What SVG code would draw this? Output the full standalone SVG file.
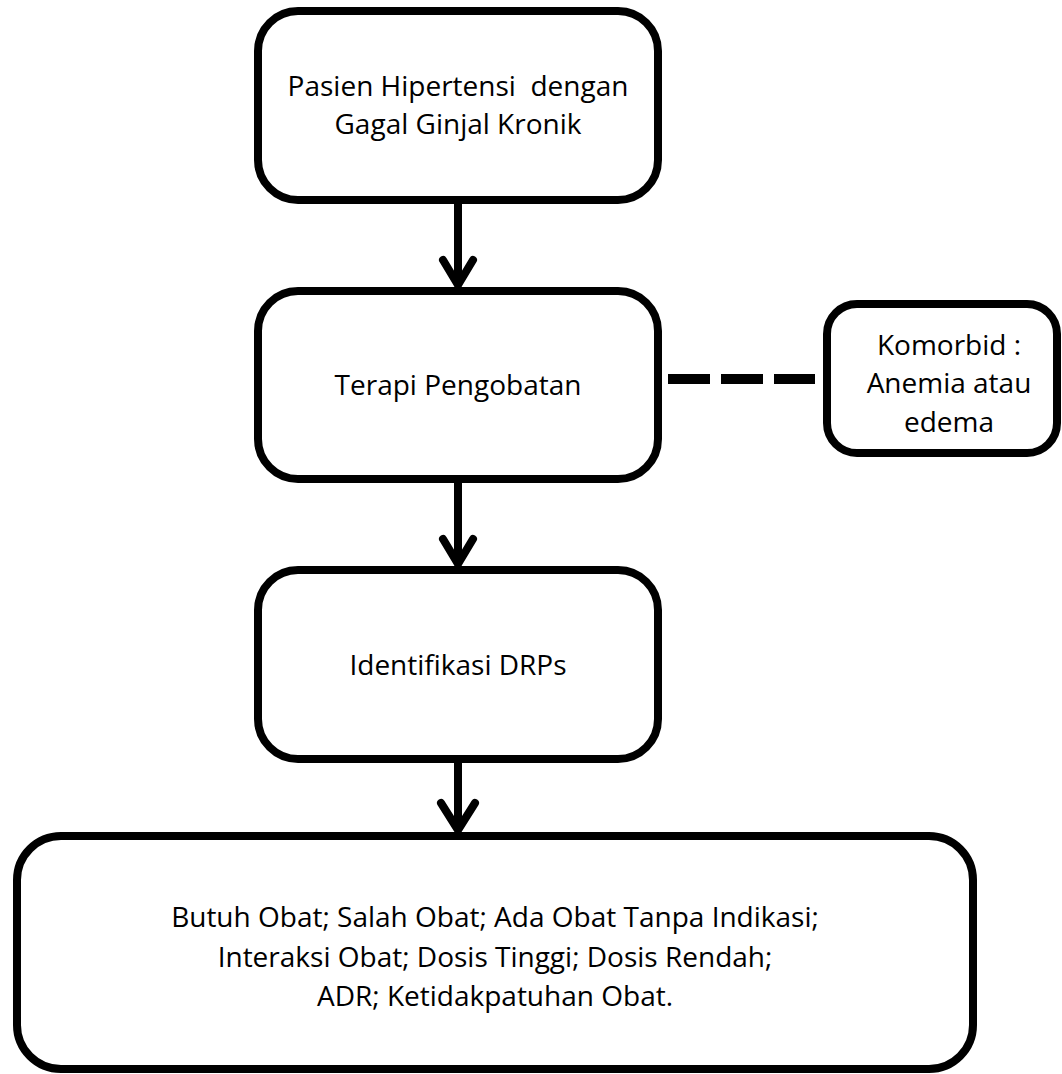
<svg xmlns="http://www.w3.org/2000/svg" width="1062" height="1074" viewBox="0 0 1062 1074">
<style>
.box{fill:#fff;stroke:#000;stroke-width:8}
.t{font-family:"Open Sans","Liberation Sans",sans-serif;font-size:28px;fill:#000;text-anchor:middle}
.arr{fill:none;stroke:#000;stroke-width:8;stroke-linecap:round;stroke-linejoin:round}
.dash{stroke:#000;stroke-width:10;stroke-dasharray:42 11;fill:none}
</style>
<rect width="1062" height="1074" fill="#fff"/>
<g id="connectors">
<path class="arr" d="M458 204V285M443 260L458 285L473 260"/>
<path class="arr" d="M458 483V564M443 539L458 564L473 539"/>
<path class="arr" d="M458 763V830M441 803L458 830L475 803"/>
<line class="dash" x1="668" y1="379" x2="815" y2="379"/>
</g>
<g id="n1">
<rect class="box" x="258" y="11" width="400" height="189" rx="40"/>
<text class="t" x="458" y="96" xml:space="preserve">Pasien Hipertensi  dengan</text>
<text class="t" x="458" y="134">Gagal Ginjal Kronik</text>
</g>
<g id="n2">
<rect class="box" x="258" y="291" width="400" height="188" rx="40"/>
<text class="t" x="458" y="395">Terapi Pengobatan</text>
</g>
<g id="n3">
<rect class="box" x="258" y="570" width="400" height="189" rx="40"/>
<text class="t" x="458" y="675">Identifikasi DRPs</text>
</g>
<g id="n4">
<rect class="box" x="827" y="304" width="230" height="149" rx="30"/>
<text class="t" x="949" y="355">Komorbid :</text>
<text class="t" x="949" y="393">Anemia atau</text>
<text class="t" x="949" y="432">edema</text>
</g>
<g id="n5">
<rect class="box" x="17" y="836" width="956" height="233" rx="44"/>
<text class="t" x="495" y="927">Butuh Obat; Salah Obat; Ada Obat Tanpa Indikasi;</text>
<text class="t" x="495" y="967">Interaksi Obat; Dosis Tinggi; Dosis Rendah;</text>
<text class="t" x="495" y="1006">ADR; Ketidakpatuhan Obat.</text>
</g>
</svg>
